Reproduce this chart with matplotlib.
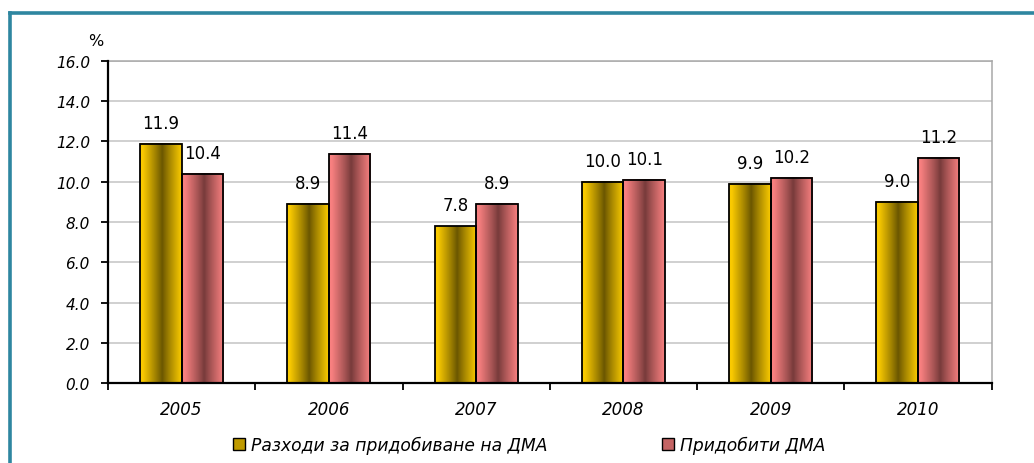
import numpy as np
import matplotlib
matplotlib.use("Agg")
import matplotlib.pyplot as plt
from matplotlib.lines import Line2D
from matplotlib.patches import Rectangle

plt.rcParams['font.family'] = ['DejaVu Sans']

years = ['2005', '2006', '2007', '2008', '2009', '2010']
expenses = [11.9, 8.9, 7.8, 10.0, 9.9, 9.0]
acquired = [10.4, 11.4, 8.9, 10.1, 10.2, 11.2]
series_names = ['Разходи за придобиване на ДМА', 'Придобити ДМА']
yticks = [0, 2, 4, 6, 8, 10, 12, 14, 16]

yellow_light = np.array([250, 202, 0]) / 255
yellow_dark = np.array([105, 85, 0]) / 255
pink_light = np.array([248, 128, 128]) / 255
pink_dark = np.array([118, 58, 58]) / 255


def gradient_img(light, dark, n=64):
    x = np.linspace(0, 1, n)
    t = np.clip(np.abs(x - 0.53) / 0.47, 0, 1) ** 0.9
    cols = dark[None, :] + (light - dark)[None, :] * t[:, None]
    return cols[None, :, :]


fig = plt.figure(figsize=(10.34, 4.64), dpi=100)
ax = fig.add_axes([0.1044, 0.1724, 0.959 - 0.1044, 0.8664 - 0.1724])

x = np.arange(len(years))
w = 0.282
fs = 12

bars1 = ax.bar(x - w / 2, expenses, w, facecolor='none', edgecolor='black', linewidth=1.3, zorder=4)
bars2 = ax.bar(x + w / 2, acquired, w, facecolor='none', edgecolor='black', linewidth=1.3, zorder=4)

img1 = gradient_img(yellow_light, yellow_dark)
img2 = gradient_img(pink_light, pink_dark)
for bars, img in ((bars1, img1), (bars2, img2)):
    for r in bars:
        x0, y0 = r.get_x(), r.get_y()
        ax.imshow(img, extent=[x0, x0 + r.get_width(), y0, y0 + r.get_height()],
                  aspect='auto', zorder=3, interpolation='bilinear')

for bars, vals in ((bars1, expenses), (bars2, acquired)):
    for r, v in zip(bars, vals):
        ax.annotate(f'{v:.1f}', (r.get_x() + r.get_width() / 2, v),
                    xytext=(0, 8.5), textcoords='offset points',
                    ha='center', va='bottom', fontsize=fs, color='black', zorder=5)

ax.set_xlim(-0.5, len(years) - 0.5)
ax.set_ylim(0, 16)
ax.set_yticks(yticks)
ax.set_yticklabels([f'{v:.1f}' for v in yticks], fontsize=11, style='italic')
ax.set_xticks(x)
ax.set_xticklabels(years, fontsize=fs, style='italic')
ax.set_xticks(np.arange(-0.5, len(years)), minor=True)
ax.tick_params(axis='x', which='major', length=0, pad=12.5)
ax.tick_params(axis='x', which='minor', length=5, width=1.3, direction='out', color='black')
ax.tick_params(axis='y', length=5, width=1.3, direction='out', pad=8, color='black')

ax.yaxis.grid(True, color='#C4C4C4', linewidth=1.1, zorder=0)
ax.set_axisbelow(True)
for s in ('left', 'bottom'):
    ax.spines[s].set_color('black')
    ax.spines[s].set_linewidth(1.6)
    ax.spines[s].set_zorder(6)
for s in ('top', 'right'):
    ax.spines[s].set_color('#A8A8A8')
    ax.spines[s].set_linewidth(1.1)

fig.text(96 / 1034, 1 - 42 / 464, '%', ha='center', va='center', fontsize=11.5)

# legend
handles = [Rectangle((0, 0), 1, 1, facecolor=(yellow_light * 0.6 + yellow_dark * 0.4), edgecolor='black', linewidth=1),
           Rectangle((0, 0), 1, 1, facecolor=(pink_light * 0.6 + pink_dark * 0.4), edgecolor='black', linewidth=1)]
leg = fig.legend(handles, series_names, loc='center', bbox_to_anchor=(0.512, 1 - 446 / 464),
                 ncol=2, frameon=False, prop={'size': 12.3, 'style': 'italic'},
                 handlelength=0.70, handleheight=0.70, handletextpad=0.36, columnspacing=6.67)

# teal frame (top and left edges)
teal = '#2E86A0'
fig.add_artist(Line2D([9.5 / 1034, 1.0], [1 - 13.5 / 464, 1 - 13.5 / 464], color=teal, linewidth=2.6,
                      transform=fig.transFigure))
fig.add_artist(Line2D([9.5 / 1034, 9.5 / 1034], [0, 1 - 13.5 / 464], color=teal, linewidth=2.6,
                      transform=fig.transFigure))

fig.savefig('out.png', dpi=100)
